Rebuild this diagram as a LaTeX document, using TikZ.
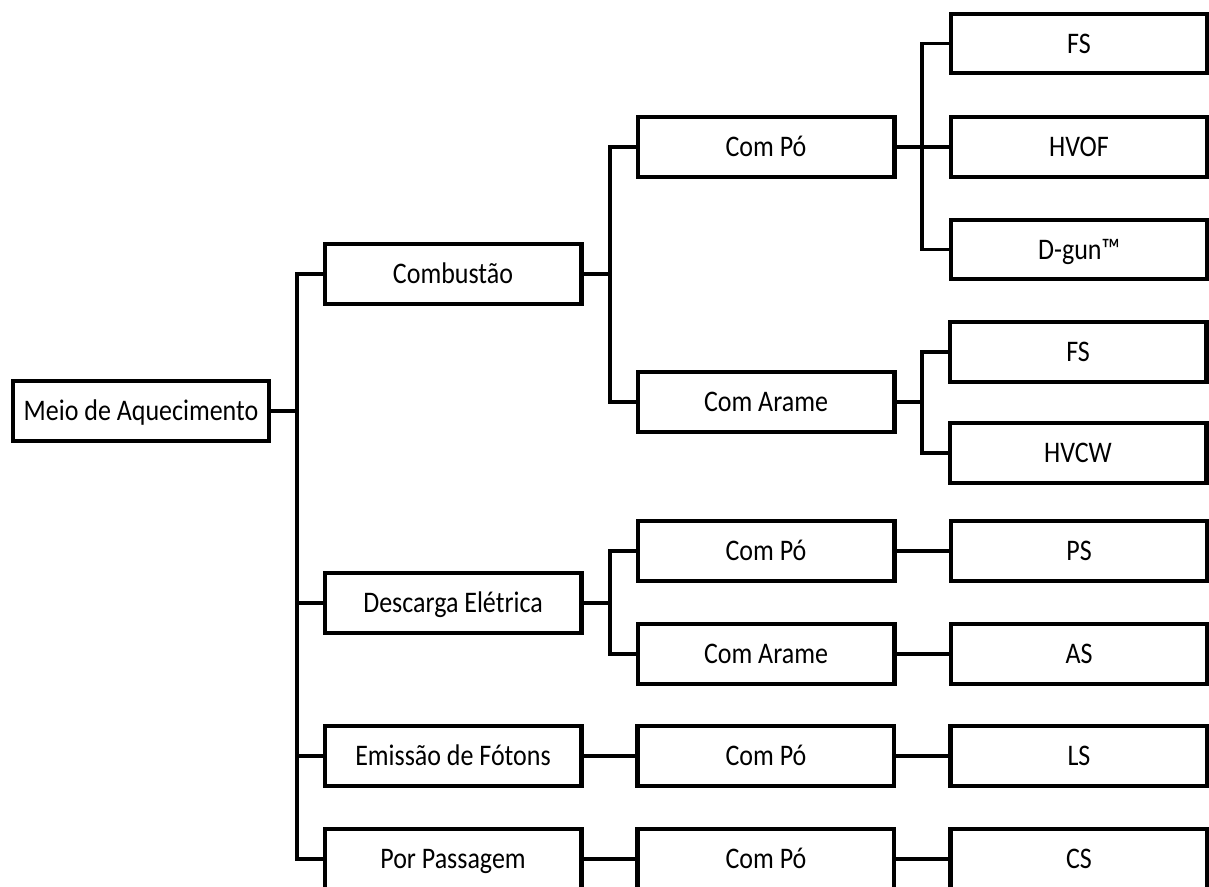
\documentclass[tikz,border=0pt]{standalone}
\usepackage{fontspec}
\setmainfont{Carlito}
\newfontfamily\boxfont[FakeStretch=0.87]{Carlito}
\usetikzlibrary{positioning}

\begin{document}
\begin{tikzpicture}[
  x=0.02cm, y=-0.02cm,
  box/.style={draw, line width=2.3pt, minimum width=5.14cm,
    minimum height=1.19cm, inner sep=0pt,
    text height=12.7pt, text depth=1.7pt,
    font=\boxfont\fontsize{17}{20}\selectfont},
  conn/.style={line width=2pt, line cap=rect},
  node distance=1.04cm,
]
\useasboundingbox (0,0) rectangle (1209,886);

% level 0
\node[box] (meio) at (141,411) {Meio de Aquecimento};

% level 1
\node[box] (comb) at (453,274) {Combustão};
\node[box] (desc) at (453,603) {Descarga Elétrica};
\node[box] (emis) at (453,756) {Emissão de Fótons};
\node[box] (pass) at (453,859) {Por Passagem};

% level 2
\node[box] (combpo) at (766,147) {Com Pó};
\node[box] (combar) at (766,402) {Com Arame};
\node[box] (descpo) at (766,551) {Com Pó};
\node[box] (descar) at (766,654) {Com Arame};
\node[box, right=of emis] (emispo) {Com Pó};
\node[box, right=of pass] (passpo) {Com Pó};

% level 3
\node[box, right=of combpo] (hvof) {HVOF};
\node[box, above=0.8cm of hvof] (fsa) {FS};
\node[box, below=0.78cm of hvof] (dgun) {D-gun™};
\node[box] (fsb) at (1078,352) {FS};
\node[box] (hvcw) at (1078,453) {HVCW};
\node[box, right=of descpo] (ps) {PS};
\node[box, right=of descar] (as) {AS};
\node[box, right=of emispo] (ls) {LS};
\node[box, right=of passpo] (cs) {CS};

% junction columns
\coordinate (j0) at (297,0);
\coordinate (j1) at (610,0);
\coordinate (j2) at (922,0);

\draw[conn] (meio) -- (j0 |- meio);
\draw[conn] (j0 |- comb) -- (j0 |- pass);
\foreach \n in {comb,desc,emis,pass}
  \draw[conn] (j0 |- \n) -- (\n);

\draw[conn] (comb) -- (j1 |- comb);
\draw[conn] (j1 |- combpo) -- (j1 |- combar);
\foreach \n in {combpo,combar}
  \draw[conn] (j1 |- \n) -- (\n);

\draw[conn] (desc) -- (j1 |- desc);
\draw[conn] (j1 |- descpo) -- (j1 |- descar);
\foreach \n in {descpo,descar}
  \draw[conn] (j1 |- \n) -- (\n);

\draw[conn] (combpo) -- (j2 |- combpo);
\draw[conn] (j2 |- fsa) -- (j2 |- dgun);
\foreach \n in {fsa,hvof,dgun}
  \draw[conn] (j2 |- \n) -- (\n);

\draw[conn] (combar) -- (j2 |- combar);
\draw[conn] (j2 |- fsb) -- (j2 |- hvcw);
\foreach \n in {fsb,hvcw}
  \draw[conn] (j2 |- \n) -- (\n);

% straight rows
\draw[conn] (descpo) -- (ps);
\draw[conn] (descar) -- (as);
\draw[conn] (emis) -- (emispo);
\draw[conn] (emispo) -- (ls);
\draw[conn] (pass) -- (passpo);
\draw[conn] (passpo) -- (cs);

\end{tikzpicture}
\end{document}
